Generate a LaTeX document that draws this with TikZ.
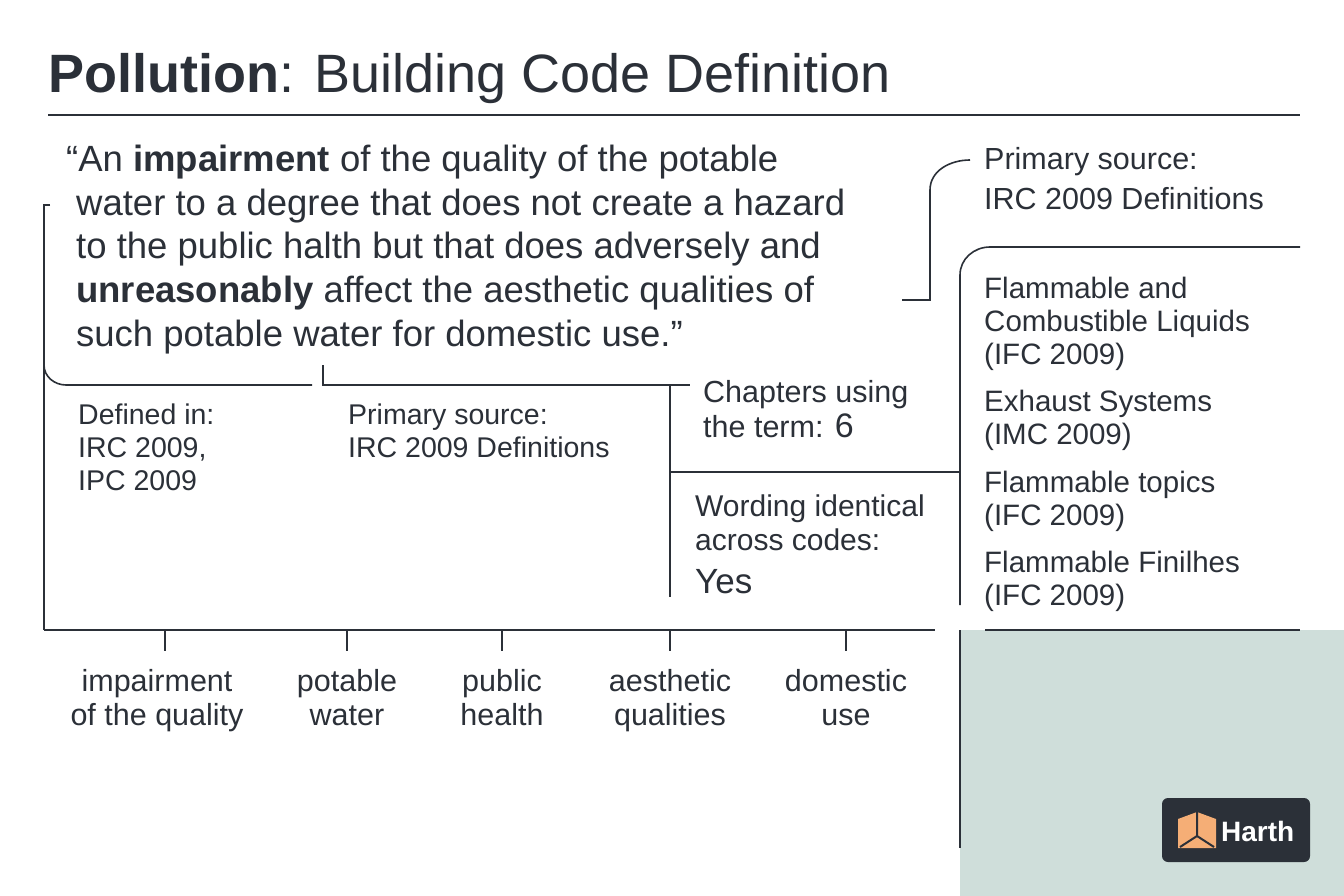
\documentclass[tikz,border=0pt]{standalone}
\usepackage{fontspec}
\setmainfont{Liberation Sans}
\begin{document}
\begin{tikzpicture}[x=1pt,y=-1pt,
  ln/.style={draw=ink,line width=1.6pt},
  txt/.style={text=ink,anchor=north west,inner sep=0pt,align=left},
  lbl/.style={text=ink,anchor=north,inner sep=0pt,align=center,font=\fontsize{30.5}{34.5}\selectfont}]
\definecolor{ink}{HTML}{2B3038}
\definecolor{teal}{HTML}{CFDEDA}
\definecolor{orng}{HTML}{F5AE76}
\useasboundingbox (0,0) rectangle (1344,896);
\fill[white] (0,0) rectangle (1344,896);
\fill[teal] (960,630) rectangle (1344,896);
% title
\node[txt,anchor=base west,font=\fontsize{54}{60}\selectfont] (title) at (48,93) {\textbf{Pollution}: Building Code Definition};
\draw[ln] (48,115) -- (1300,115);
% quote
\node[txt,font=\fontsize{36.5}{43.6}\selectfont] (quote) at (66,145) {``An \textbf{impairment} of the quality of the potable\\
\hspace*{10pt}water to a degree that does not create a hazard\\
\hspace*{10pt}to the public halth but that does adversely and\\
\hspace*{10pt}\textbf{unreasonably} affect the aesthetic qualities of\\
\hspace*{10pt}such potable water for domestic use.''};
% left bracket
\coordinate (lt) at (50,205);
\draw[ln] (lt) -- (44,205) -- (44,630);
\draw[ln] (44,365) to[out=-90,in=180] (66,385) -- (312,385);
\draw[ln] (323,365) -- (323,385) -- (690,385);
\draw[ln] (670,385) -- (670,597);
\draw[ln] (670,472) -- (960,472);
\draw[ln] (902,300) -- (930,300) -- (930,190) to[out=90,in=180] (970,160);
\draw[ln] (960,605) -- (960,275) to[out=90,in=180] (990,247) -- (1300,247);
\draw[ln] (960,630) -- (960,848);
% axis
\draw[ln] (44,630) -- (935,630);
\draw[ln] (985,630) -- (1300,630);
\foreach \x in {165,347,502,670,846} \draw[ln] (\x,630) -- (\x,651);
\node[lbl] (l1) at (157,669) {impairment\\of the quality};
\node[lbl] (l2) at (347,669) {potable\\water};
\node[lbl] (l3) at (502,669) {public\\health};
\node[lbl] (l4) at (670,669) {aesthetic\\qualities};
\node[lbl] (l5) at (846,669) {domestic\\use};
% middle texts
\node[txt,font=\fontsize{28.5}{33}\selectfont] (def) at (78,404) {Defined in:\\IRC 2009,\\IPC 2009};
\node[txt,font=\fontsize{28.5}{33}\selectfont] (src) at (348,404) {Primary source:\\IRC 2009 Definitions};
\node[txt,font=\fontsize{30.5}{35}\selectfont] (chap) at (703,380) {Chapters using\\the term: \fontsize{34}{36}\selectfont 6};
\node[txt,font=\fontsize{30}{34}\selectfont] (word) at (695,495) {Wording identical\\across codes:};
\node[txt,anchor=base west,font=\fontsize{35}{38}\selectfont] (yes) at (695,593) {Yes};
% right column
\node[txt,font=\fontsize{30.5}{40}\selectfont] (src2) at (984,147) {Primary source:\\IRC 2009 Definitions};
\node[txt,font=\fontsize{29.5}{33}\selectfont] (r1) at (984,277) {Flammable and\\Combustible Liquids\\(IFC 2009)};
\node[txt,font=\fontsize{29.5}{33}\selectfont] (r2) at (984,390) {Exhaust Systems\\(IMC 2009)};
\node[txt,font=\fontsize{29.5}{33}\selectfont] (r3) at (984,471) {Flammable topics\\(IFC 2009)};
\node[txt,font=\fontsize{29.5}{33}\selectfont] (r4) at (984,551) {Flammable Finilhes\\(IFC 2009)};
% logo
\fill[ink,rounded corners=6pt] (1162,798) rectangle (1310,862);
\fill[orng] (1197,812) -- (1216,819) -- (1216,848) -- (1178,848) -- (1178,819) -- cycle;
\draw[ink,line width=2pt] (1197,812) -- (1197,836) -- (1180,847) (1197,836) -- (1214,847);
\node[text=white,font=\fontsize{28}{30}\selectfont\bfseries,anchor=west,inner sep=0pt] (logo) at (1221,831) {Harth};
\end{tikzpicture}
\end{document}
